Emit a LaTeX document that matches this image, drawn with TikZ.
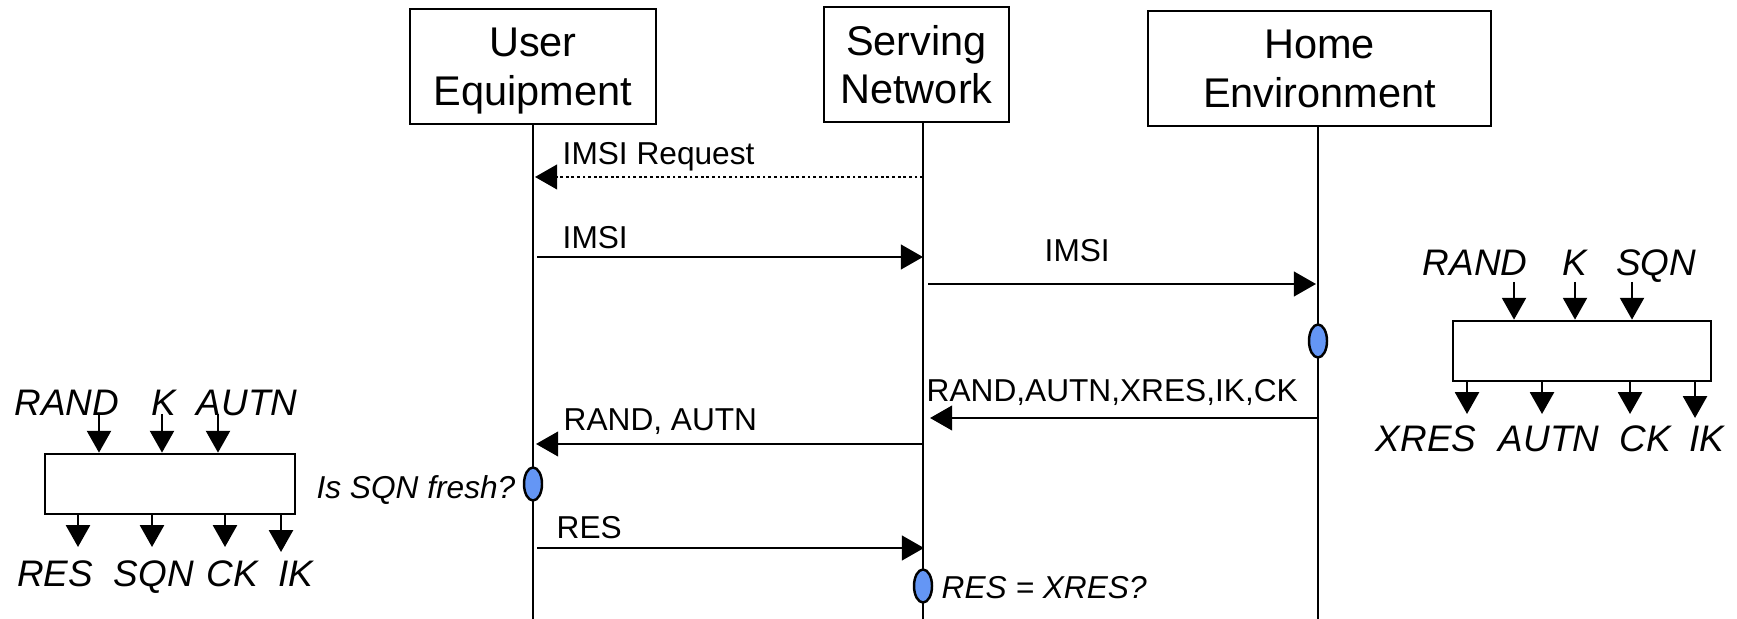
\documentclass[tikz,border=0pt]{standalone}
\usepackage{fontspec}
\setmainfont{Liberation Sans}
\usetikzlibrary{arrows.meta,shapes.geometric}
\definecolor{evtblue}{RGB}{100,150,245}
\tikzset{
  actor/.style={draw, line width=0.75pt, align=center, inner sep=0pt,
    text depth=0pt, font=\fontsize{11.8}{13.8}\selectfont},
  life/.style={line width=0.6pt},
  msg/.style={line width=0.7pt, -{Triangle[length=6.3pt,width=7pt]}},
  req/.style={msg, dash pattern=on 0.8pt off 0.8pt},
  lbl/.style={inner sep=0pt, text height=6.5pt, text depth=0pt,
    font=\fontsize{9}{11}\selectfont},
  chk/.style={inner sep=0pt, text height=6.5pt, text depth=0pt,
    font=\fontsize{9}{11}\selectfont\itshape},
  evt/.style={ellipse, draw, line width=0.7pt, fill=evtblue,
    minimum width=0.18cm, minimum height=0.33cm, inner sep=0pt},
  fbox/.style={draw, line width=0.75pt, inner sep=0pt},
  fio/.style={line width=0.7pt, -{Triangle[length=6.2pt,width=6.8pt]}},
  flbl/.style={inner sep=0pt, text height=7.5pt, text depth=0pt,
    font=\fontsize{10.5}{12}\selectfont\itshape},
}
\begin{document}
\begin{tikzpicture}[x=0.01cm,y=-0.01cm]
\useasboundingbox (0,0) rectangle (1737,619);

% entities
\node[actor, minimum width=2.46cm, minimum height=1.15cm] (ue) at (533,66.5) {User\\Equipment};
\node[actor, minimum width=1.85cm, minimum height=1.15cm] (sn) at (916.5,64.5) {Serving\\Network};
\node[actor, minimum width=3.43cm, minimum height=1.15cm] (he) at (1319.5,68.5) {Home\\Environment};

% lifelines
\coordinate (ue-top) at (533,124);  \coordinate (ue-bot) at (533,619);
\coordinate (sn-top) at (923,122);  \coordinate (sn-bot) at (923,619);
\coordinate (he-top) at (1318,126); \coordinate (he-bot) at (1318,619);
\draw[life] (ue-top) -- (ue-bot);
\draw[life] (sn-top) -- (sn-bot);
\draw[life] (he-top) -- (he-bot);

% message end points
\coordinate (m1s) at (923,177);  \coordinate (m1e) at (535,177);
\coordinate (m2s) at (537,257);  \coordinate (m2e) at (923,257);
\coordinate (m3s) at (928,284);  \coordinate (m3e) at (1316,284);
\coordinate (m4s) at (1318,418); \coordinate (m4e) at (930,418);
\coordinate (m5s) at (923,444);  \coordinate (m5e) at (536,444);
\coordinate (m6s) at (537,548);  \coordinate (m6e) at (924,548);

% messages
\draw[req] (m1s) -- (m1e);
\draw[msg] (m2s) -- (m2e);
\draw[msg] (m3s) -- (m3e);
\draw[msg] (m4s) -- (m4e);
\draw[msg] (m5s) -- (m5e);
\draw[msg] (m6s) -- (m6e);

\node[lbl, anchor=west] (l1) at (562,153) {IMSI Request};
\node[lbl, anchor=west] (l2) at (562,237) {IMSI};
\node[lbl, anchor=west] (l3) at (1044,250) {IMSI};
\node[lbl, anchor=west] (l4) at (926,390) {RAND,AUTN,XRES,IK,CK};
\node[lbl, anchor=west] (l5) at (563,419) {RAND, AUTN};
\node[lbl, anchor=west] (l6) at (556,527) {RES};

% local events
\node[evt] (e1) at (1318,341) {};
\node[evt] (e2) at (533,484) {};
\node[evt] (e3) at (923,586) {};
\node[chk, anchor=east] (c2) at (516,487) {Is SQN fresh?};
\node[chk, anchor=west] (c3) at (941,587) {RES = XRES?};

% home environment: authentication vector generation
\node[fbox, minimum width=2.58cm, minimum height=0.60cm] (rb) at (1582,351) {};
\node[flbl] (ri1) at (1475,262) {RAND};
\node[flbl] (ri2) at (1575,262) {K};
\node[flbl] (ri3) at (1656,262) {SQN};
\coordinate (ra1) at (1514,282);
\coordinate (ra2) at (1575,282);
\coordinate (ra3) at (1632,282);
\draw[fio] (ra1) -- (ra1 |- rb.north);
\draw[fio] (ra2) -- (ra2 |- rb.north);
\draw[fio] (ra3) -- (ra3 |- rb.north);
\coordinate (rb1) at (1467,414);
\coordinate (rb2) at (1542,414);
\coordinate (rb3) at (1630,414);
\coordinate (rb4) at (1695,418);
\draw[fio] (rb1 |- rb.south) -- (rb1);
\draw[fio] (rb2 |- rb.south) -- (rb2);
\draw[fio] (rb3 |- rb.south) -- (rb3);
\draw[fio] (rb4 |- rb.south) -- (rb4);
\node[flbl] (ro1) at (1426,438) {XRES};
\node[flbl] (ro2) at (1549,438) {AUTN};
\node[flbl] (ro3) at (1645,438) {CK};
\node[flbl] (ro4) at (1707,438) {IK};

% user equipment: authentication function
\node[fbox, minimum width=2.50cm, minimum height=0.60cm] (lb) at (170,484) {};
\node[flbl] (li1) at (67,402) {RAND};
\node[flbl] (li2) at (164,402) {K};
\node[flbl] (li3) at (247,402) {AUTN};
\coordinate (la1) at (99,414);
\coordinate (la2) at (162,414);
\coordinate (la3) at (218,414);
\draw[fio] (la1) -- (la1 |- lb.north);
\draw[fio] (la2) -- (la2 |- lb.north);
\draw[fio] (la3) -- (la3 |- lb.north);
\coordinate (lb1) at (78,547);
\coordinate (lb2) at (152,547);
\coordinate (lb3) at (225,547);
\coordinate (lb4) at (281,552);
\draw[fio] (lb1 |- lb.south) -- (lb1);
\draw[fio] (lb2 |- lb.south) -- (lb2);
\draw[fio] (lb3 |- lb.south) -- (lb3);
\draw[fio] (lb4 |- lb.south) -- (lb4);
\node[flbl] (lo1) at (55,573) {RES};
\node[flbl] (lo2) at (154,573) {SQN};
\node[flbl] (lo3) at (232,573) {CK};
\node[flbl] (lo4) at (296,573) {IK};
\end{tikzpicture}
\end{document}
